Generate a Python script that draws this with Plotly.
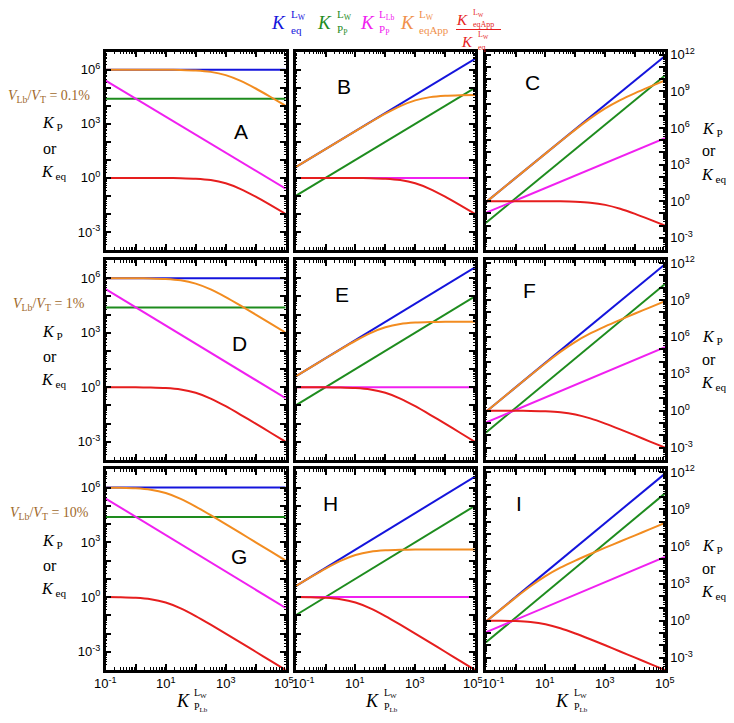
import plotly.graph_objects as go

W, H = 734, 723
OFF = 8  # the page body adds an 8 px margin around the figure
FW, FH = W - OFF, H - OFF

# x values (K_P_Lb^Lw) at half-decade steps, and end points for straight lines
x_grid = [0.1, 0.316, 1.0, 3.16, 10.0, 31.6, 100.0, 316.0, 1000.0, 3160.0, 1.0e4, 3.16e4, 1.0e5]
x_ends = [0.1, 1.0e5]

# K_eq^Lw (blue), one per column
blue_c1 = [1.0e6, 1.0e6]
blue_c2 = [3.98, 3.98e6]
blue_c3 = [0.8, 8.0e11]

# K_Pp^Lw (green)
green_c1 = [2.45e4, 2.45e4]
green_c2 = [0.1, 1.0e5]
green_c3 = [0.0166, 2.0e10]

# K_Pp^LLb (magenta)
magenta_c1 = [2.5e5, 0.25]
magenta_c2 = [1.0, 1.0]
magenta_c3 = [0.11, 1.45e5]

# K_eqApp / K_eq (red), one per row
red_r1 = [1.0, 1.0, 0.999, 0.997, 0.990, 0.969, 0.909, 0.760, 0.500, 0.240, 0.0909, 0.0307, 0.00999]
red_r2 = [0.999, 0.997, 0.990, 0.969, 0.909, 0.760, 0.500, 0.240, 0.0909, 0.0307, 0.00999, 0.00315, 0.00100]
red_r3 = [0.990, 0.969, 0.909, 0.760, 0.500, 0.240, 0.0909, 0.0307, 0.00999, 0.00315, 0.00100, 0.000316, 0.000100]

# K_eqApp^Lw (orange), one per panel
orange_A = [1.0e6, 1.0e6, 1.0e6, 9.97e5, 9.9e5, 9.69e5, 9.09e5, 7.6e5, 5.0e5, 2.4e5, 9.09e4, 3.07e4, 9.99e3]
orange_B = [3.98, 12.6, 39.8, 125.0, 394.0, 1220.0, 3620.0, 9570.0, 1.99e4, 3.02e4, 3.62e4, 3.87e4, 3.98e4]
orange_C = [0.8, 8.0, 80.0, 798.0, 7920.0, 7.75e4, 7.27e5, 6.08e6, 4.0e7, 1.92e8, 7.27e8, 2.46e9, 7.99e9]
orange_D = [9.99e5, 9.97e5, 9.9e5, 9.69e5, 9.09e5, 7.6e5, 5.0e5, 2.4e5, 9.09e4, 3.07e4, 9.99e3, 3.15e3, 1.0e3]
orange_E = [3.98, 12.5, 39.4, 122.0, 362.0, 957.0, 1990.0, 3020.0, 3620.0, 3870.0, 3980.0, 3980.0, 3980.0]
orange_F = [0.8, 7.98, 79.2, 775.0, 7270.0, 6.08e4, 4.0e5, 1.92e6, 7.27e6, 2.46e7, 7.99e7, 2.52e8, 8.0e8]
orange_G = [9.9e5, 9.69e5, 9.09e5, 7.6e5, 5.0e5, 2.4e5, 9.09e4, 3.07e4, 9.99e3, 3.15e3, 1.0e3, 316.0, 100.0]
orange_H = [3.94, 12.2, 36.2, 95.6, 199.0, 302.0, 362.0, 386.0, 398.0, 397.0, 398.0, 398.0, 398.0]
orange_I = [0.792, 7.75, 72.7, 608.0, 4000.0, 1.92e4, 7.27e4, 2.46e5, 7.99e5, 2.52e6, 8.0e6, 2.53e7, 8.0e7]

panel_letters = ["A", "B", "C", "D", "E", "F", "G", "H", "I"]
volume_labels = ["0.1%", "1%", "10%"]
x_label_exps = [-1, 1, 3, 5]

blues = [blue_c1, blue_c2, blue_c3]
greens = [green_c1, green_c2, green_c3]
magentas = [magenta_c1, magenta_c2, magenta_c3]
reds = [red_r1, red_r2, red_r3]
oranges = [[orange_A, orange_B, orange_C], [orange_D, orange_E, orange_F], [orange_G, orange_H, orange_I]]

C_BLUE = "#1414dc"
C_GREEN = "#1e8c1e"
C_MAGENTA = "#f020f0"
C_ORANGE = "#f28c20"
C_RED = "#e61e1e"
C_BROWN = "#a0692c"
SERIF = "Liberation Serif, Times New Roman, serif"
SANS = "Liberation Sans, Arial, sans-serif"

# panel boxes in screen pixels
cols_px = [(105.7, 285.7), (295.7, 475.0), (485.7, 665.0)]
rows_px = [(51.7, 250.0), (260.0, 460.0), (469.3, 670.0)]
letter_px = [(241, 131), (344, 86), (532, 82),
             (239, 343), (342, 294), (529, 290),
             (239, 556), (330, 503), (519, 503)]


def fx(px):
    return (px - OFF) / FW


def fy(py):
    return 1 - (py - OFF) / FH


def sup(e):
    return "10<sup>%d</sup>" % e


fig = go.Figure()
layout = dict(width=FW, height=FH, margin=dict(l=0, r=0, t=0, b=0, pad=0),
              template="none", plot_bgcolor="white", paper_bgcolor="white",
              showlegend=False)

x_major = [10.0 ** e for e in range(-1, 6)]
x_minor = [m * 10.0 ** e for e in range(-1, 5) for m in range(2, 10)]

for r in range(3):
    for c in range(3):
        i = r * 3 + c + 1
        xn = "x" if i == 1 else "x%d" % i
        yn = "y" if i == 1 else "y%d" % i
        series = [
            (x_ends, blues[c], C_BLUE),
            (x_ends, greens[c], C_GREEN),
            (x_ends, magentas[c], C_MAGENTA),
            (x_grid, oranges[r][c], C_ORANGE),
            (x_grid, reds[r], C_RED),
        ]
        for xs, ys, col in series:
            fig.add_trace(go.Scatter(x=xs, y=ys, mode="lines", xaxis=xn, yaxis=yn,
                                     line=dict(color=col, width=2, shape="spline", smoothing=0.6),
                                     hoverinfo="skip"))

        x0, x1 = cols_px[c]
        y0, y1 = rows_px[r]
        layout["xaxis" if i == 1 else "xaxis%d" % i] = dict(
            type="log", range=[-1, 5], domain=[fx(x0), fx(x1)], anchor=yn,
            tickmode="array", tickvals=x_major, showticklabels=False,
            ticks="inside", ticklen=6, tickwidth=1.5, tickcolor="black",
            showline=True, linecolor="black", linewidth=2.5, mirror="allticks",
            showgrid=False, zeroline=False, automargin=False,
            minor=dict(tickmode="array", tickvals=x_minor, ticks="inside",
                       ticklen=3, tickwidth=1, tickcolor="black", showgrid=False))
        if c == 2:
            y_rng = [-4, 12.25]
            emax = 12
        else:
            y_rng = [-4, 7]
            emax = 7
        y_major = [10.0 ** e for e in range(-4, emax + 1)]
        y_minor = [m * 10.0 ** e for e in range(-4, emax + 1) for m in range(2, 10)]
        ylab = [sup(e) if e % 3 == 0 else "" for e in range(-4, emax + 1)]
        layout["yaxis" if i == 1 else "yaxis%d" % i] = dict(
            type="log", range=y_rng, domain=[fy(y1), fy(y0)], anchor=xn,
            side="right" if c == 2 else "left",
            tickmode="array", tickvals=y_major, ticktext=ylab,
            ticks="inside", ticklen=6, tickwidth=1.5, tickcolor="black",
            showline=True, linecolor="black", linewidth=2.5, mirror="allticks",
            showgrid=False, zeroline=False, showticklabels=(c != 1), automargin=False,
            tickfont=dict(family=SANS, size=13, color="black"),
            minor=dict(tickmode="array", tickvals=y_minor, ticks="inside",
                       ticklen=2, tickwidth=1, tickcolor="black", showgrid=False))

annotations = []
shapes = []


def txt(px, py, text, size, color="black", family=SERIF, xanchor="center"):
    annotations.append(dict(x=fx(px), y=fy(py), xref="paper", yref="paper",
                            text=text, showarrow=False, xanchor=xanchor, yanchor="middle",
                            font=dict(family=family, size=size, color=color)))


def kterm(px, py, up, down, color, size=18, small=11, dup=None, ddown=None):
    # italic K with stacked super/subscripts; px = right edge of K
    dup = size * 0.42 if dup is None else dup
    ddown = size * 0.38 if ddown is None else ddown
    txt(px, py, "<i>K</i>", size, color, xanchor="right")
    txt(px + 0.5, py - dup, up, small, color, xanchor="left")
    txt(px + 0.5, py + ddown, down, small, color, xanchor="left")


for k, (lx, ly) in enumerate(letter_px):
    txt(lx, ly, panel_letters[k], 21, family=SANS)

# x tick labels of the bottom row, placed by hand so neighbours do not collide
for c in range(3):
    x0, x1 = cols_px[c]
    for e in x_label_exps:
        px = x0 + (e + 1) / 6 * (x1 - x0)
        if e == -1 and c > 0:
            px += 8
        if e == 5 and c < 2:
            px -= 2
        txt(px, 683, sup(e), 13, family=SANS)

# top legend
kterm(288, 23, "L<sub>W</sub>", "eq", C_BLUE, size=19)
kterm(334, 23, "L<sub>W</sub>", "P<sub>P</sub>", C_GREEN, size=19)
kterm(377, 23, "L<sub>Lb</sub>", "P<sub>P</sub>", C_MAGENTA, size=19)
kterm(417, 23, "L<sub>W</sub>", "eqApp", "#f0904c", size=19)
kterm(470, 19.5, "L<sub>W</sub>", "eqApp", C_RED, size=15, small=8, dup=6, ddown=4.5)
kterm(475, 42, "L<sub>W</sub>", "eq", C_RED, size=15, small=8, dup=6.5, ddown=5.5)
shapes.append(dict(type="line", xref="paper", yref="paper",
                   x0=fx(456), x1=fx(501), y0=fy(29.5), y1=fy(29.5),
                   line=dict(color=C_RED, width=1.2)))

# row labels
for r in range(3):
    dy = [0, 208.5, 417.6][r]
    txt(49, 96 + dy, "<i>V</i><sub>Lb</sub>/<i>V</i><sub>T</sub> = " + volume_labels[r], 14, C_BROWN)
    txt(52, 124 + dy, "<i>K</i><sub> P</sub>", 16)
    txt(50, 148 + dy, "or", 16)
    txt(53, 172 + dy, "<i>K</i><sub> eq</sub>", 16)
    txt(712, 129 + dy, "<i>K</i><sub> P</sub>", 16)
    txt(709, 151 + dy, "or", 16)
    txt(713, 175 + dy, "<i>K</i><sub> eq</sub>", 16)

# x-axis titles
for c in range(3):
    cx = (cols_px[c][0] + cols_px[c][1]) / 2
    kterm(cx - 4, 701, "L<sub>W</sub>", "P<sub>Lb</sub>", "black", size=18, small=10)

layout["annotations"] = annotations
layout["shapes"] = shapes
fig.update_layout(**layout)

fig.write_html("out.html")
